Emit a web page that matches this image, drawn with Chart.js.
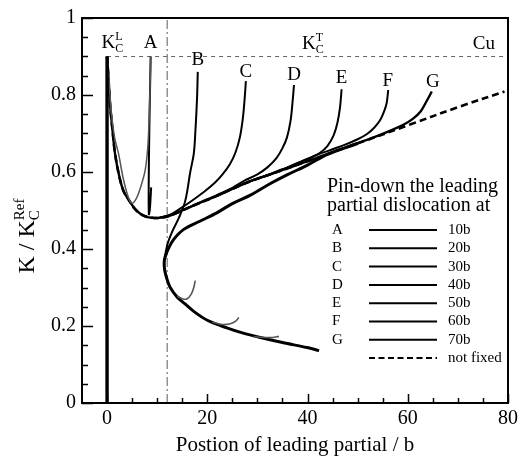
<!DOCTYPE html>
<html lang="en">
<head>
<meta charset="UTF-8">
<title>K / KcRef against position of leading partial</title>
<script src="https://cdn.jsdelivr.net/npm/chart.js@4.4.0/dist/chart.umd.min.js"></script>
<style>
  html, body { margin: 0; padding: 0; background: #fff; }
</style>
</head>
<body>
<canvas id="myChart" width="525" height="463"></canvas>
<script>
// ---- data ----
var xTickValues = [0, 20, 40, 60, 80];
var yTickValues = [0, 0.2, 0.4, 0.6, 0.8, 1];
var pinLetters = ['A', 'B', 'C', 'D', 'E', 'F', 'G'];
var pinLabels = ['10b', '20b', '30b', '40b', '50b', '60b', '70b'];

var kcLevel = 0.9;      // K_C dashed level
var refPosition = 12;   // dash-dot marker

var startX = [0, 0];
var startY = [0, 0.9];

// not fixed (dashed)
var notFixedX = [0, 0.3, 0.6, 1, 1.6, 2.5, 3.3, 4.3, 5.5, 6.5, 7.6, 9, 10.5, 12.6, 15.3, 18, 21.9, 25, 28.6, 32.6, 40, 50.6, 60.6, 70.6, 79.3];
var notFixedY = [0.9, 0.84, 0.775, 0.72, 0.647, 0.585, 0.55, 0.528, 0.505, 0.493, 0.485, 0.481, 0.481, 0.487, 0.502, 0.517, 0.538, 0.556, 0.576, 0.594, 0.628, 0.677, 0.724, 0.771, 0.809];

// pinned curves
var curveAX = [8.8, 8.55, 8.35, 8.3, 8.36, 8.47, 8.6, 8.7];
var curveAY = [0.56, 0.505, 0.49, 0.54, 0.64, 0.74, 0.83, 0.9];
var curveBX = [18.1, 17.95, 17.6, 17.3, 16.6, 15.6, 14.3, 13, 12, 11.5];
var curveBY = [0.86, 0.79, 0.7, 0.647, 0.6, 0.525, 0.48, 0.445, 0.41, 0.375];
var curveCX = [27.7, 27.45, 27.1, 26.5, 25.6, 24.5, 23, 21.5, 19.5, 17, 14.5, 12.6, 10.5];
var curveCY = [0.836, 0.79, 0.74, 0.69, 0.65, 0.62, 0.593, 0.572, 0.55, 0.526, 0.504, 0.489, 0.482];
var curveDX = [37.3, 37, 36.6, 35.9, 35, 33.8, 32, 30, 27.5, 25, 21.9, 18, 15.3];
var curveDY = [0.826, 0.78, 0.732, 0.69, 0.662, 0.636, 0.612, 0.594, 0.578, 0.559, 0.54, 0.518, 0.502];
var curveEX = [46.8, 46.5, 46, 45.2, 44, 42.5, 40.5, 38, 35, 32, 28.6, 25, 21.9];
var curveEY = [0.815, 0.77, 0.73, 0.695, 0.668, 0.65, 0.636, 0.622, 0.607, 0.592, 0.576, 0.556, 0.538];
var curveFX = [56.1, 55.8, 55.3, 54.5, 53.3, 51.8, 50, 47.5, 45, 42, 39, 36, 32.6, 28.6];
var curveFY = [0.813, 0.78, 0.758, 0.735, 0.715, 0.698, 0.685, 0.671, 0.659, 0.645, 0.629, 0.612, 0.594, 0.576];
var curveGX = [0, 0.3, 0.6, 1, 1.6, 2.5, 3.3, 4.3, 5.5, 6.5, 7.6, 9, 10.5, 12.6, 15.3, 18, 21.9, 25, 28.6, 32.6, 37, 40, 44, 48, 52, 54.6, 57, 59.3, 61, 62.6, 63.8, 64.8];
var curveGY = [0.9, 0.84, 0.775, 0.72, 0.647, 0.585, 0.55, 0.528, 0.505, 0.493, 0.485, 0.481, 0.481, 0.487, 0.502, 0.517, 0.538, 0.556, 0.576, 0.594, 0.614, 0.628, 0.647, 0.666, 0.684, 0.697, 0.71, 0.724, 0.738, 0.758, 0.785, 0.809];

// C-shaped branch
var branchX = [50, 44, 40, 36, 32.6, 28.6, 25, 21.9, 18.5, 15.3, 13.3, 12.2, 11.6, 11.4, 11.5, 12, 12.6, 14, 15.5, 17.3, 20, 23.9, 27, 30.6, 35, 39.9, 42.3];
var branchY = [0.674, 0.646, 0.618, 0.593, 0.57, 0.54, 0.518, 0.494, 0.472, 0.451, 0.425, 0.4, 0.38, 0.366, 0.345, 0.32, 0.3, 0.275, 0.258, 0.238, 0.215, 0.195, 0.182, 0.17, 0.157, 0.144, 0.136];

// grey unstable pieces
var greyAX = [0.3, 0.8, 1.5, 2.3, 3.2, 4.1, 4.9, 5.8, 6.8, 7.6, 8.1, 8.4, 8.6, 8.7];
var greyAY = [0.86, 0.76, 0.69, 0.647, 0.585, 0.54, 0.519, 0.53, 0.565, 0.604, 0.66, 0.74, 0.83, 0.9];
var hook1X = [14, 15, 15.9, 16.8, 17.3, 17.6];
var hook1Y = [0.278, 0.271, 0.27, 0.283, 0.3, 0.318];
var hook2X = [21, 23, 24.6, 25.6, 26.3];
var hook2Y = [0.21, 0.204, 0.206, 0.212, 0.222];
var hook3X = [29.2, 31.5, 33, 34.3];
var hook3Y = [0.172, 0.17, 0.17, 0.173];

function pts(xs, ys) {
    return xs.map(function (x, i) { return { x: x, y: ys[i] }; });
}

var serif = "'Liberation Serif', 'Times New Roman', serif";

function curve(data, width, color, order, tension) {
    return {
        data: data, showLine: true, pointRadius: 0, borderColor: color,
        borderWidth: width, tension: tension, order: order, fill: false
    };
}

var datasets = [
    Object.assign(curve(pts([0, 80], [kcLevel, kcLevel]), 1, '#666', 20, 0), { borderDash: [4, 4] }),
    Object.assign(curve(pts([refPosition, refPosition], [0, 1]), 1.2, '#777', 20, 0), { borderDash: [9, 3, 2, 3] }),
    Object.assign(curve(pts(notFixedX, notFixedY), 2.6, '#000', 10, 0.35), { borderDash: [7, 4] }),
    curve(pts(curveAX, curveAY), 2, '#000', 5, 0.25),
    curve(pts(curveBX, curveBY), 2, '#000', 5, 0.35),
    curve(pts(curveCX, curveCY), 2, '#000', 5, 0.35),
    curve(pts(curveDX, curveDY), 2, '#000', 5, 0.35),
    curve(pts(curveEX, curveEY), 2, '#000', 5, 0.35),
    curve(pts(curveFX, curveFY), 2, '#000', 5, 0.35),
    curve(pts(curveGX, curveGY), 2.4, '#000', 5, 0.35),
    curve(pts(branchX, branchY), 3, '#000', 4, 0.35),
    curve(pts(greyAX, greyAY), 1.5, '#555', 3, 0.35),
    curve(pts(hook1X, hook1Y), 1.6, '#555', 3, 0.35),
    curve(pts(hook2X, hook2Y), 1.6, '#555', 3, 0.35),
    curve(pts(hook3X, hook3Y), 1.6, '#555', 3, 0.35),
    curve(pts(startX, startY), 3.4, '#000', 2, 0)
];

// K with subscript and superscript; x,y = baseline left of K
function drawK(ctx, x, y, main, sub, sup, size) {
    ctx.font = size + 'px ' + serif;
    ctx.textAlign = 'left';
    ctx.textBaseline = 'alphabetic';
    ctx.fillText(main, x, y);
    var w = ctx.measureText(main).width;
    ctx.font = Math.round(size * 0.62) + 'px ' + serif;
    ctx.fillText(sub, x + w, y + size * 0.22);
    ctx.fillText(sup, x + w, y - size * 0.42);
}

var plotLabels = [
    { t: 'A', x: 8.7, y: 0.923 },
    { t: 'B', x: 18.1, y: 0.877 },
    { t: 'C', x: 27.7, y: 0.847 },
    { t: 'D', x: 37.3, y: 0.839 },
    { t: 'E', x: 46.8, y: 0.83 },
    { t: 'F', x: 56.0, y: 0.824 },
    { t: 'G', x: 65.0, y: 0.822 },
    { t: 'Cu', x: 75.2, y: 0.92 }
];

var decorPlugin = {
    id: 'decor',
    afterDatasetsDraw: function (chart) {
        var ctx = chart.ctx, a = chart.chartArea;
        var xs = chart.scales.x, ys = chart.scales.y;
        ctx.save();
        ctx.strokeStyle = '#000';
        ctx.fillStyle = '#000';

        // inward ticks
        ctx.lineWidth = 1.5;
        ctx.beginPath();
        for (var v = 0; v <= 80; v += 5) {
            var px = Math.round(xs.getPixelForValue(v)) + 0.5;
            var len = (v % 20 === 0) ? 9 : 5;
            ctx.moveTo(px, a.bottom);
            ctx.lineTo(px, a.bottom - len);
        }
        for (var k = 0; k <= 20; k++) {
            var py = Math.round(ys.getPixelForValue(k * 0.05)) + 0.5;
            var l2 = (k % 4 === 0) ? 11 : 6;
            ctx.moveTo(a.left, py);
            ctx.lineTo(a.left + l2, py);
        }
        ctx.stroke();

        // frame
        ctx.lineWidth = 2;
        ctx.strokeRect(a.left, a.top, a.right - a.left, a.bottom - a.top);

        // in-plot text
        plotLabels.forEach(function (p) {
            ctx.font = '19px ' + serif;
            ctx.textAlign = 'center';
            ctx.textBaseline = 'alphabetic';
            ctx.fillText(p.t, xs.getPixelForValue(p.x), ys.getPixelForValue(p.y));
        });
        drawK(ctx, xs.getPixelForValue(-1.1), ys.getPixelForValue(0.923), 'K', 'C', 'L', 19);
        drawK(ctx, xs.getPixelForValue(38.9), ys.getPixelForValue(0.92), 'K', 'C', 'T', 19);

        // legend
        var lx = a.right - 181, ly = a.top + 174;
        ctx.font = '20px ' + serif;
        ctx.textAlign = 'left';
        ctx.fillText('Pin-down the leading', lx, ly);
        ctx.fillText('partial dislocation at', lx, ly + 19);
        ctx.textBaseline = 'middle';
        for (var i = 0; i <= pinLetters.length; i++) {
            var ry = a.top + 212 + i * 18.3;
            ctx.font = '15px ' + serif;
            ctx.lineWidth = 2;
            ctx.setLineDash(i < pinLetters.length ? [] : [6, 3.5]);
            ctx.beginPath();
            ctx.moveTo(a.right - 139, ry);
            ctx.lineTo(a.right - 71, ry);
            ctx.stroke();
            ctx.setLineDash([]);
            if (i < pinLetters.length) {
                ctx.fillText(pinLetters[i], lx + 5, ry);
                ctx.fillText(pinLabels[i], a.right - 60, ry);
            } else {
                ctx.fillText('not fixed', a.right - 60, ry);
            }
        }

        // y title with sub/superscript
        ctx.translate(34, 236);
        ctx.rotate(-Math.PI / 2);
        ctx.font = '24px ' + serif;
        var mainW = ctx.measureText('K / K').width;
        ctx.font = '15px ' + serif;
        var supW = ctx.measureText('Ref').width;
        drawK(ctx, -(mainW + supW) / 2, 0, 'K / K', 'C', 'Ref', 24);
        ctx.restore();
    }
};

var ctx = document.getElementById('myChart').getContext('2d');
var chart = new Chart(ctx, {
    type: 'scatter',
    data: { datasets: datasets },
    options: {
        responsive: false,
        animation: false,
        layout: { padding: { top: 13, right: 17, left: 0, bottom: 0 } },
        plugins: { legend: { display: false }, tooltip: { enabled: false } },
        scales: {
            x: {
                type: 'linear', min: -5, max: 80,
                afterBuildTicks: function (s) { s.ticks = xTickValues.map(function (v) { return { value: v }; }); },
                afterFit: function (s) { s.height = 60; },
                grid: { display: false, drawTicks: false },
                border: { display: false },
                ticks: { color: '#000', font: { family: serif, size: 20 }, padding: 4, maxRotation: 0 },
                title: { display: true, text: 'Postion of leading partial / b', color: '#000', font: { family: serif, size: 21 }, padding: { top: 0, bottom: 5 } }
            },
            y: {
                type: 'linear', min: 0, max: 1,
                afterBuildTicks: function (s) { s.ticks = yTickValues.map(function (v) { return { value: v }; }); },
                afterFit: function (s) { s.width = 82; },
                grid: { display: false, drawTicks: false },
                border: { display: false },
                ticks: { color: '#000', font: { family: serif, size: 20 }, padding: 6, callback: function (v) { return String(v); } }
            }
        }
    },
    plugins: [decorPlugin]
});
</script>
</body>
</html>
